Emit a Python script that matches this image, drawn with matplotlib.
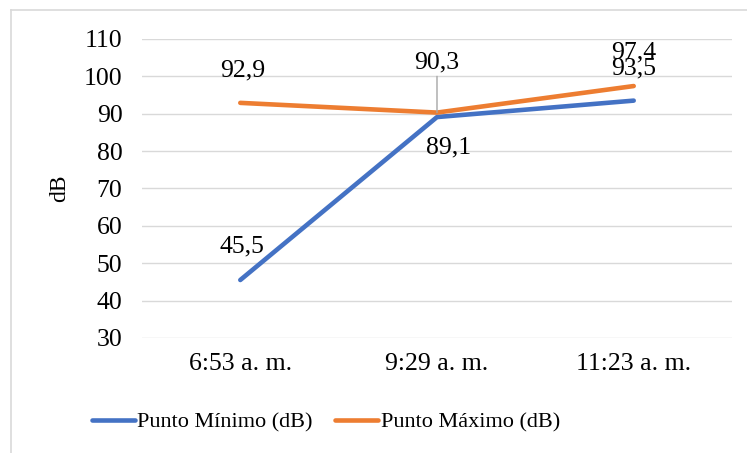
import matplotlib
matplotlib.use("Agg")
import matplotlib.pyplot as plt
from matplotlib.lines import Line2D

plt.rcParams["font.family"] = ["Liberation Serif", "DejaVu Serif"]

categories = ["6:53 a. m.", "9:29 a. m.", "11:23 a. m."]
punto_minimo = [45.5, 89.1, 93.5]
punto_maximo = [92.9, 90.3, 97.4]
series_names = ["Punto Mínimo (dB)", "Punto Máximo (dB)"]

BLUE = "#4472C4"
ORANGE = "#ED7D31"


def fmt(v):
    return f"{v:.1f}".replace(".", ",")


fig = plt.figure(figsize=(7.47, 4.53), dpi=100)
ax = fig.add_axes([0.190, 0.254, 0.790, 0.660])

x = list(range(len(categories)))
ax.plot(x, punto_minimo, color=BLUE, lw=3.3, solid_capstyle="round", label=series_names[0])
ax.plot(x, punto_maximo, color=ORANGE, lw=3.3, solid_capstyle="round", label=series_names[1])

fs = 18.5
ax.set_xlim(-0.5, 2.5)
ax.set_ylim(30, 110)
ax.set_yticks(range(30, 111, 10))
ax.set_xticks(x)
ax.set_xticklabels(categories)
ax.tick_params(axis="both", length=0, labelsize=fs, colors="#000000")
ax.tick_params(axis="y", pad=14)
ax.tick_params(axis="x", pad=11)
ax.grid(axis="y", color="#D9D9D9", lw=1)
ax.set_axisbelow(True)
for s in ax.spines.values():
    s.set_visible(False)
ax.set_ylabel("dB", fontsize=17, labelpad=10)

# data labels (offsets in points)
offsets_min = [(1, 24), (8.6, -22), (0, 23)]
offsets_max = [(1.5, 23), (0, 36), (0, 24.5)]
for i, v in enumerate(punto_minimo):
    ax.annotate(fmt(v), (i, v), xytext=offsets_min[i], textcoords="offset points",
                ha="center", va="center", fontsize=fs)
for i, v in enumerate(punto_maximo):
    props = None
    if i == 1:
        props = dict(arrowstyle="-", color="#A6A6A6", lw=1, shrinkA=0, shrinkB=0)
    ax.annotate(fmt(v), (i, v), xytext=offsets_max[i], textcoords="offset points",
                ha="center", va="center", fontsize=fs, arrowprops=props)

fig.legend(loc="center", bbox_to_anchor=(0.436, 0.068), ncol=2, frameon=False, fontsize=16,
           handlelength=1.94, handletextpad=0.1, columnspacing=1.03)

# chart area border (left and top only visible)
fig.add_artist(Line2D([10.5 / 747, 10.5 / 747], [0, 1 - 9.5 / 453], transform=fig.transFigure,
                      color="#D9D9D9", lw=1.2))
fig.add_artist(Line2D([10.5 / 747, 1], [1 - 9.5 / 453, 1 - 9.5 / 453], transform=fig.transFigure,
                      color="#D9D9D9", lw=1.2))

fig.savefig("out.png", dpi=100)
